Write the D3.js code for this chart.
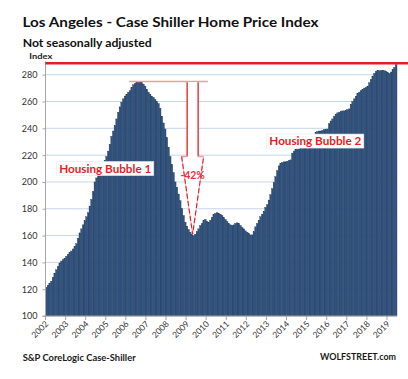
<!DOCTYPE html>
<html>
<head>
<meta charset="utf-8">
<script src="https://cdn.jsdelivr.net/npm/d3@7/dist/d3.min.js"></script>
<style>
  html, body { margin: 0; padding: 0; background: #fff; }
  svg { display: block; }
  text { font-family: Lato, "Open Sans", "Liberation Sans", sans-serif; }
</style>
</head>
<body>
<svg id="chart" width="408" height="379"></svg>
<script>
// ---------- data ----------
const startYear = 2002;
const yearLabels = ["2002","2003","2004","2005","2006","2007","2008","2009","2010",
  "2011","2012","2013","2014","2015","2016","2017","2018","2019"];
const yTicks = [100,120,140,160,180,200,220,240,260,280];
// monthly index values, Jan 2002 .. Jun 2019
const values = [
  121.5,123,124.5,126,129,132,134.5,137,139.5,141,142,143,            // 2002
  144.5,146,147.5,148.5,150,152,154,158,162,165,168,171,              // 2003
  174,177,182,187,193,200,203,205.5,207.5,210,213,216,                // 2004
  219,223,228,234,238,242,247,252,256,259.5,262,264,                  // 2005
  265.5,267,268,270.5,272.5,273.5,274.5,275,274.5,274,273,271.5,      // 2006
  269,267,265.5,264,263,261.5,260,258.5,255,249,244,239.5,            // 2007
  233,226,219,213,207,200,196,191,186,180,175,170,                    // 2008
  167,164.5,162.5,161,160,161,163,165,167.5,169,171,172,              // 2009
  170.5,170,171.5,173.5,175.5,176.5,177,176.5,176,175,173.5,172,      // 2010
  170.5,169,168,167.5,168,169,169.5,169,167.5,166,165,163.5,          // 2011
  162.5,161.5,160.5,160.5,163,166.5,169,171.5,174,176,178,181,        // 2012
  183,186.5,190.5,195,199.5,204,208.5,212,214,214.5,215,215,          // 2013
  215.5,216,216.5,221.5,223,224,224.5,224.5,225,225,225,225,          // 2014
  225,225.5,225.5,226,226,237,237.5,238,238,238.5,239,239,            // 2015
  239.5,243.5,245.5,247,249,250.5,251.5,252,252.5,253,253,253.5,      // 2016
  254,254.5,258,260,262,264,266,267,268,269,270,270.5,                // 2017
  271.5,274,276.5,279,281,282.5,283,283,283,283,283,282.5,            // 2018
  281.5,281,282,284,285.5,287.5                                       // 2019
];
const peakMonth = 55, troughMonth = 88;
const peakLineRange = [50, 97];           // months spanned by the peak marker line
const dropLabel = "-42%";
const latestLevel = 288.5;                 // red reference line
const bubbleLabels = [
  {text: "Housing Bubble 1", month: 35.7, value: 210},
  {text: "Housing Bubble 2", month: 161.2, value: 230.5}
];

// ---------- layout ----------
const svg = d3.select("#chart");
const plot = {left: 45.5, right: 397, top: 61.3, bottom: 316};
const months = d3.range(values.length);

const x = d3.scaleBand().domain(months).range([plot.left, plot.right]).padding(0);
const y = d3.scaleLinear().domain([100, 290]).range([plot.bottom, plot.top]);

// gridlines
svg.append("g").selectAll("line").data(yTicks.filter(d => d > 100)).join("line")
  .attr("x1", plot.left).attr("x2", plot.right)
  .attr("y1", d => y(d)).attr("y2", d => y(d))
  .attr("stroke", "#c6d6ea").attr("stroke-width", 1);

// bars
svg.append("g").selectAll("rect").data(values).join("rect")
  .attr("x", (d, i) => x(i))
  .attr("y", d => y(d))
  .attr("width", x.bandwidth())
  .attr("height", d => y(100) - y(d))
  .attr("fill", "#31537f")
  .attr("stroke", "#1e375b")
  .attr("stroke-width", 0.35);

// y axis
const yAxis = d3.axisLeft(y).tickValues(yTicks).tickSize(3).tickPadding(5);
const gy = svg.append("g").attr("transform", `translate(${plot.left},0)`).call(yAxis);
gy.select(".domain").attr("stroke", "#a6a6a6").attr("d", `M-3,${plot.bottom}H0V${plot.top}`);
gy.selectAll(".tick line").attr("stroke", "#a6a6a6");
gy.selectAll(".tick text").attr("fill", "#333").attr("font-size", 9)
  .attr("font-family", "Lato, 'Open Sans', sans-serif");

// x axis
const yearStarts = yearLabels.map((d, i) => i * 12);
const xAxis = d3.axisBottom(x).tickValues(yearStarts)
  .tickFormat((d) => yearLabels[d / 12]).tickSize(4).tickPadding(2);
const gx = svg.append("g").attr("transform", `translate(0,${plot.bottom})`).call(xAxis);
gx.select(".domain").attr("stroke", "#a6a6a6").attr("d", `M${plot.left},0H${plot.right}`);
gx.selectAll(".tick").attr("transform", d => `translate(${x(d)},0)`);
gx.selectAll(".tick line").attr("stroke", "#a6a6a6");
gx.selectAll(".tick text")
  .attr("fill", "#333").attr("font-size", 8.5)
  .attr("font-family", "Lato, 'Open Sans', sans-serif")
  .attr("text-anchor", "end")
  .attr("dy", null)
  .attr("transform", "translate(2,7) rotate(-45)")
  .attr("y", 0).attr("x", 0)
  .attr("dominant-baseline", "middle");

// red reference line
svg.append("line")
  .attr("x1", plot.left).attr("x2", 408)
  .attr("y1", y(latestLevel)).attr("y2", y(latestLevel))
  .attr("stroke", "#e41e26").attr("stroke-width", 2.6);

// peak marker line
const peakY = y(values[peakMonth]);
svg.append("line")
  .attr("x1", x(peakLineRange[0])).attr("x2", x(peakLineRange[1]))
  .attr("y1", peakY).attr("y2", peakY)
  .attr("stroke", "#f29a9e").attr("stroke-width", 1.5);

// drop arrow
const cx = x(troughMonth) + x.bandwidth() / 2 - 1;
const shaftHalf = 5.5, headHalf = 11;
const shoulderY = y(219);
const tipY = y(values[troughMonth] + 1);
const headPath = `M${cx - headHalf},${shoulderY}L${cx},${tipY}L${cx + headHalf},${shoulderY}`;
svg.append("path")
  .attr("d", `M${cx - shaftHalf},${peakY + 0.8}V${shoulderY}H${cx - headHalf}L${cx},${tipY}L${cx + headHalf},${shoulderY}H${cx + shaftHalf}V${peakY + 0.8}Z`)
  .attr("fill", "#fff").attr("stroke", "none");
svg.append("path")
  .attr("d", `M${cx - shaftHalf},${peakY + 0.8}V${shoulderY}M${cx + shaftHalf},${peakY + 0.8}V${shoulderY}`)
  .attr("stroke", "#e41e26").attr("stroke-width", 1.3).attr("fill", "none");
svg.append("path")
  .attr("d", `M${cx - shaftHalf},${shoulderY}H${cx - headHalf}M${cx + shaftHalf},${shoulderY}H${cx + headHalf}`)
  .attr("stroke", "#f29a9e").attr("stroke-width", 1.3).attr("fill", "none");
svg.append("path")
  .attr("d", headPath)
  .attr("stroke", "#f6b3b6").attr("stroke-width", 1.1).attr("fill", "none");
svg.append("path")
  .attr("d", headPath)
  .attr("stroke", "#e41e26").attr("stroke-width", 1.1).attr("fill", "none")
  .attr("stroke-dasharray", "5,2.5");
svg.append("text")
  .attr("x", cx).attr("y", y(202.2))
  .attr("text-anchor", "middle")
  .attr("font-size", 11.5).attr("font-weight", "bold").attr("fill", "#e8333b")
  .attr("textLength", 24.5).attr("lengthAdjust", "spacingAndGlyphs")
  .text(dropLabel);

// bubble labels
bubbleLabels.forEach(b => {
  const bx = x(0) + (b.month) * x.step();
  const by = y(b.value);
  const g = svg.append("g");
  g.append("text")
    .attr("x", bx).attr("y", by + 4)
    .attr("text-anchor", "middle")
    .attr("font-size", 11.5).attr("font-weight", "bold").attr("fill", "#e41e26")
    .attr("textLength", 92).attr("lengthAdjust", "spacingAndGlyphs")
    .text(b.text);
  g.insert("rect", "text")
    .attr("x", bx - 48.5).attr("y", by - 7)
    .attr("width", 97).attr("height", 14)
    .attr("fill", "#fff").attr("stroke", "#e6e6e6").attr("stroke-width", 0.6);
});

// titles
svg.append("text").attr("x", 22.5).attr("y", 26.7)
  .attr("font-size", 14).attr("font-weight", "bold").attr("fill", "#111")
  .attr("textLength", 296).attr("lengthAdjust", "spacingAndGlyphs")
  .text("Los Angeles - Case Shiller Home Price Index");
svg.append("text").attr("x", 22.7).attr("y", 46.7)
  .attr("font-size", 10.5).attr("font-weight", "bold").attr("fill", "#111")
  .attr("textLength", 129).attr("lengthAdjust", "spacingAndGlyphs")
  .text("Not seasonally adjusted");
svg.append("text").attr("x", 29.3).attr("y", 58.6)
  .attr("font-size", 8).attr("font-weight", "bold").attr("fill", "#222")
  .attr("textLength", 23).attr("lengthAdjust", "spacingAndGlyphs")
  .text("Index");

// footers
svg.append("text").attr("x", 22.7).attr("y", 361)
  .attr("font-size", 8.5).attr("font-weight", "bold").attr("fill", "#1a1a1a")
  .attr("textLength", 113).attr("lengthAdjust", "spacingAndGlyphs")
  .text("S&P CoreLogic Case-Shiller");
svg.append("text").attr("x", 320).attr("y", 360)
  .attr("font-size", 8.5).attr("font-weight", "bold").attr("fill", "#1a1a1a")
  .attr("textLength", 76).attr("lengthAdjust", "spacingAndGlyphs")
  .text("WOLFSTREET.com");
</script>
</body>
</html>
